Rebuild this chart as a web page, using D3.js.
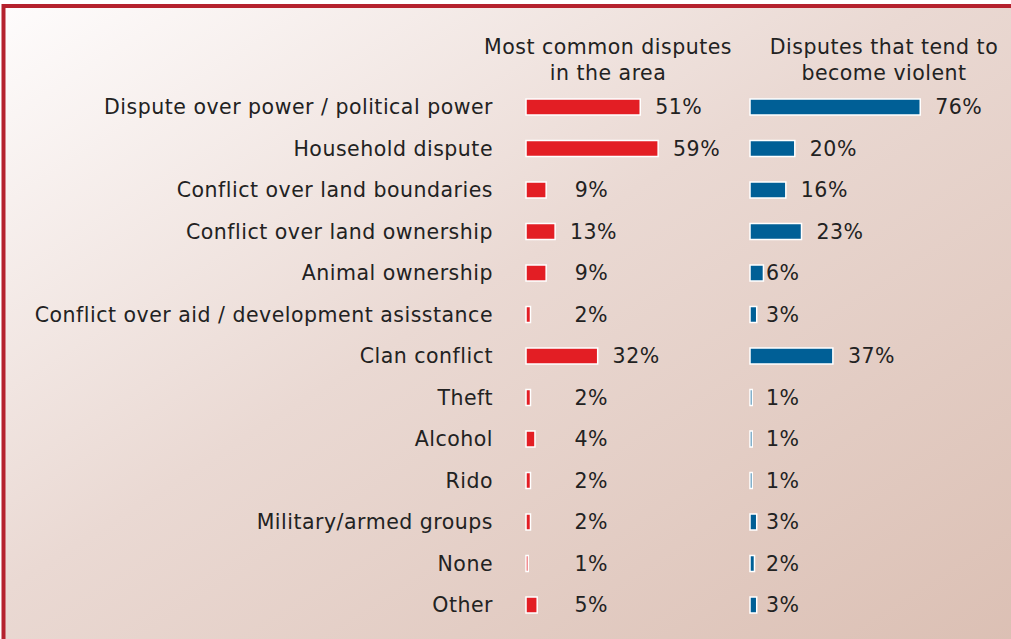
<!DOCTYPE html>
<html>
<head>
<meta charset="utf-8">
<script src="https://cdn.jsdelivr.net/npm/d3@7"></script>
<style>
  body { margin: 0; padding: 0; background: #fff; }
  svg text { font-family: "DejaVu Sans", Verdana, sans-serif; fill: #222; letter-spacing: 0.5px; }
</style>
</head>
<body>
<div id="chart"></div>
<script>
var categories = ["Dispute over power / political power", "Household dispute", "Conflict over land boundaries",
  "Conflict over land ownership", "Animal ownership", "Conflict over aid / development asisstance",
  "Clan conflict", "Theft", "Alcohol", "Rido", "Military/armed groups", "None", "Other"];
var common_vals = [51, 59, 9, 13, 9, 2, 32, 2, 4, 2, 2, 1, 5];
var violent_vals = [76, 20, 16, 23, 6, 3, 37, 1, 1, 1, 3, 2, 3];
var header_common = ["Most common disputes", "in the area"];
var header_violent = ["Disputes that tend to", "become violent"];

var width = 1011, height = 639;

var svg = d3.select("#chart").append("svg")
    .attr("width", width)
    .attr("height", height);

// background gradient
var grad = svg.append("defs").append("linearGradient")
    .attr("id", "bg")
    .attr("x1", "0%").attr("y1", "0%")
    .attr("x2", "100%").attr("y2", "100%");
grad.append("stop").attr("offset", "0%").attr("stop-color", "#fefcfc");
grad.append("stop").attr("offset", "45%").attr("stop-color", "#ead9d3");
grad.append("stop").attr("offset", "100%").attr("stop-color", "#dbbfb3");

svg.append("rect")
    .attr("x", 3.5).attr("y", 6)
    .attr("width", width + 10).attr("height", height + 10)
    .attr("fill", "url(#bg)")
    .attr("stroke", "#b5222e")
    .attr("stroke-width", 4);

// scales
var y = d3.scalePoint()
    .domain(categories)
    .range([107, 605]);

var x = d3.scaleLinear()
    .domain([0, 100])
    .range([0, 224]);

var barH = 16;
var redX = 526, blueX = 750;
var fs = "20.5px";

// category labels
svg.selectAll(".cat")
    .data(categories).enter()
    .append("text")
        .attr("class", "cat")
        .attr("x", 493)
        .attr("y", function(d) { return y(d); })
        .attr("dy", "0.35em")
        .attr("text-anchor", "end")
        .attr("font-size", fs)
        .text(function(d) { return d; });

// headers
svg.selectAll(".h1")
    .data(header_common).enter()
    .append("text")
        .attr("x", 608)
        .attr("y", function(d, i) { return 54 + i * 26; })
        .attr("text-anchor", "middle")
        .attr("font-size", fs)
        .text(function(d) { return d; });

svg.selectAll(".h2")
    .data(header_violent).enter()
    .append("text")
        .attr("x", 884)
        .attr("y", function(d, i) { return 54 + i * 26; })
        .attr("text-anchor", "middle")
        .attr("font-size", fs)
        .text(function(d) { return d; });

// red bars
svg.selectAll(".red")
    .data(common_vals).enter()
    .append("rect")
        .attr("class", "red")
        .attr("x", redX)
        .attr("y", function(d, i) { return y(categories[i]) - barH / 2; })
        .attr("width", function(d) { return x(d); })
        .attr("height", barH)
        .attr("fill", "#e31e24")
        .attr("stroke", "#ffffff")
        .attr("stroke-width", 1.5);

svg.selectAll(".redlab")
    .data(common_vals).enter()
    .append("text")
        .attr("x", function(d) { return Math.max(608, redX + x(d) + 62); })
        .attr("y", function(d, i) { return y(categories[i]); })
        .attr("dy", "0.35em")
        .attr("text-anchor", "end")
        .attr("font-size", fs)
        .text(function(d) { return d + "%"; });

// blue bars
svg.selectAll(".blue")
    .data(violent_vals).enter()
    .append("rect")
        .attr("class", "blue")
        .attr("x", blueX)
        .attr("y", function(d, i) { return y(categories[i]) - barH / 2; })
        .attr("width", function(d) { return x(d); })
        .attr("height", barH)
        .attr("fill", "#005f96")
        .attr("stroke", "#ffffff")
        .attr("stroke-width", 1.5);

svg.selectAll(".bluelab")
    .data(violent_vals).enter()
    .append("text")
        .attr("x", function(d) { return d < 10 ? 766 : blueX + x(d) + 15; })
        .attr("y", function(d, i) { return y(categories[i]); })
        .attr("dy", "0.35em")
        .attr("font-size", fs)
        .text(function(d) { return d + "%"; });
</script>
</body>
</html>
